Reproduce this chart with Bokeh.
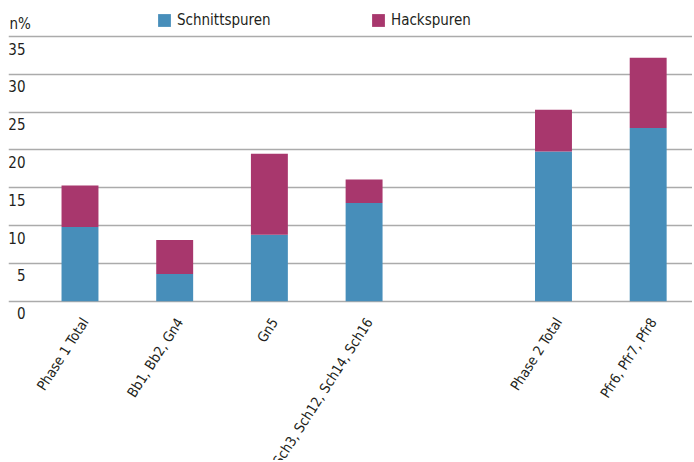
import numpy as np
from bokeh.plotting import figure
from bokeh.models import ColumnDataSource, Range1d, FixedTicker, Legend, LegendItem
from bokeh.core.properties import value
from bokeh.embed import file_html
from bokeh.resources import INLINE

# ---- data ----
categories = ["Phase 1 Total", "Bb1, Bb2, Gn4", "Gn5", "Sch3, Sch12, Sch14, Sch16",
              "", "Phase 2 Total", "Pfr6, Pfr7, Pfr8"]
schnittspuren = [9.8, 3.6, 8.8, 13.0, float("nan"), 19.8, 22.9]
hackspuren = [5.5, 4.5, 10.7, 3.1, float("nan"), 5.5, 9.3]
series = ["Schnittspuren", "Hackspuren"]
colors = ["#478eba", "#a8376d"]
y_ticks = [0, 5, 10, 15, 20, 25, 30, 35]
y_tick_labels = ["0", "5", "10", "15", "20", "25", "30", "35"]
y_title = "n%"

FONT = "DejaVu Sans Condensed, DejaVu Sans, sans-serif"
FS = "15px"
CAT_FS = "14px"
TEXT_COLOR = "#231f20"
GRID_COLOR = "#ababab"

x_pos = list(range(len(categories)))
source = ColumnDataSource(dict(x=x_pos, Schnittspuren=schnittspuren, Hackspuren=hackspuren))

X0, X1 = -0.755, 6.468
Y0, Y1 = -21.06, 38.57
p = figure(width=692, height=460, output_backend="svg", toolbar_location=None,
           x_range=Range1d(X0, X1), y_range=Range1d(Y0, Y1),
           x_axis_location=None, y_axis_location=None,
           min_border_left=8, min_border_right=0, min_border_top=9, min_border_bottom=0)
p.outline_line_color = None
p.background_fill_color = "white"
p.border_fill_color = "white"

# horizontal grid lines at the value ticks only
p.xgrid.visible = False
p.ygrid.ticker = FixedTicker(ticks=y_ticks)
p.ygrid.grid_line_color = GRID_COLOR
p.ygrid.grid_line_width = 1.5

renderers = p.vbar_stack(series, x="x", width=0.39, color=colors, line_color=None,
                         source=source)

# category labels (rotated, ending under each bar)
cat_src = ColumnDataSource(dict(x=x_pos, y=[0] * len(x_pos), text=categories))
p.text(x="x", y="y", text="text", source=cat_src, angle=1.0,
       x_offset=5, y_offset=18, text_align="right", text_baseline="middle",
       text_font=value(FONT), text_font_size=value(CAT_FS), text_color=TEXT_COLOR)

# value labels, right aligned, sitting just below their grid line
tick_src = ColumnDataSource(dict(x=[X0] * len(y_ticks), y=y_ticks, text=y_tick_labels))
p.text(x="x", y="y", text="text", source=tick_src, x_offset=17, y_offset=12,
       text_align="right", text_baseline="middle",
       text_font=value(FONT), text_font_size=value(FS), text_color=TEXT_COLOR)

# axis title
p.text(x=[X0], y=[y_ticks[-1]], text=[y_title], x_offset=1, y_offset=-13,
       text_align="left", text_baseline="middle",
       text_font=value(FONT), text_font_size=value(FS), text_color=TEXT_COLOR)

# legends
for r, name, loc in zip(renderers, series, [(148, 431), (362, 431)]):
    lg = Legend(items=[LegendItem(label=name, renderers=[r])], location=loc,
                orientation="horizontal", glyph_width=16, glyph_height=16,
                label_height=16, label_standoff=5, padding=0, margin=0, spacing=0,
                border_line_color=None, background_fill_alpha=0,
                label_text_font=FONT, label_text_font_size=FS,
                label_text_color=TEXT_COLOR, label_text_baseline="middle")
    p.add_layout(lg)

open("out.html", "w").write(file_html(p, INLINE))
